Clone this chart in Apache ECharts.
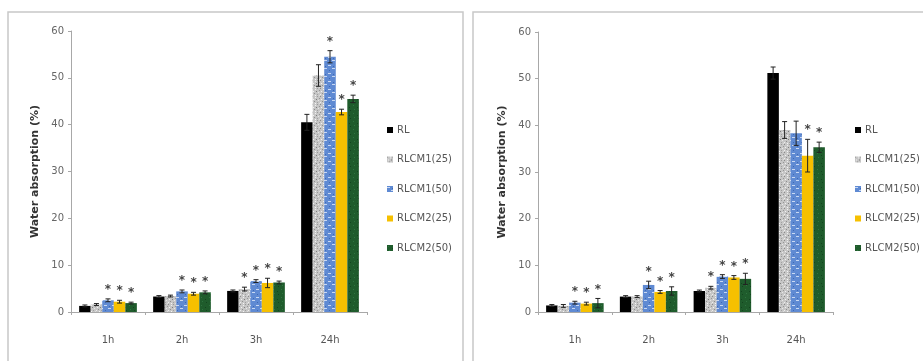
<!DOCTYPE html>
<html>
<head>
<meta charset="utf-8">
<script src="https://cdn.jsdelivr.net/npm/echarts@6/dist/echarts.min.js"></script>
<style>
html,body{margin:0;padding:0;background:#fff;}
#c{width:923px;height:361px;}
</style>
</head>
<body>
<div id="c"></div>
<script>
// ---- data ----
const categories = ['1h', '2h', '3h', '24h'];
const seriesNames = ['RL', 'RLCM1(25)', 'RLCM1(50)', 'RLCM2(25)', 'RLCM2(50)'];
const yTicks = [0, 10, 20, 30, 40, 50, 60];

// left panel: values per series across categories
const leftRL      = [1.3, 3.3, 4.5, 40.5];
const leftM1_25   = [1.6, 3.4, 4.9, 50.5];
const leftM1_50   = [2.5, 4.4, 6.6, 54.5];
const leftM2_25   = [2.2, 3.9, 6.2, 42.7];
const leftM2_50   = [1.9, 4.2, 6.3, 45.5];
const leftErrRL    = [0.2, 0.2, 0.2, 1.7];
const leftErrM1_25 = [0.2, 0.2, 0.4, 2.3];
const leftErrM1_50 = [0.3, 0.3, 0.3, 1.3];
const leftErrM2_25 = [0.3, 0.3, 1.0, 0.6];
const leftErrM2_50 = [0.2, 0.3, 0.3, 0.8];
const leftStarRL    = [0, 0, 0, 0];
const leftStarM1_25 = [0, 0, 1, 0];
const leftStarM1_50 = [1, 1, 1, 1];
const leftStarM2_25 = [1, 1, 1, 1];
const leftStarM2_50 = [1, 1, 1, 1];

// right panel
const rightRL      = [1.4, 3.3, 4.5, 51.2];
const rightM1_25   = [1.3, 3.3, 5.2, 39.0];
const rightM1_50   = [2.0, 5.8, 7.6, 38.3];
const rightM2_25   = [1.8, 4.3, 7.4, 33.5];
const rightM2_50   = [1.9, 4.5, 7.1, 35.3];
const rightErrRL    = [0.2, 0.2, 0.2, 1.3];
const rightErrM1_25 = [0.3, 0.2, 0.3, 1.8];
const rightErrM1_50 = [0.3, 0.8, 0.4, 2.6];
const rightErrM2_25 = [0.3, 0.3, 0.4, 3.5];
const rightErrM2_50 = [1.0, 0.9, 1.2, 1.1];
const rightStarRL    = [0, 0, 0, 0];
const rightStarM1_25 = [0, 0, 1, 0];
const rightStarM1_50 = [1, 1, 1, 0];
const rightStarM2_25 = [1, 1, 1, 1];
const rightStarM2_50 = [1, 1, 1, 1];

// ---- textures (style only) ----
function makePattern(base, marks, size) {
  const cv = document.createElement('canvas');
  cv.width = size; cv.height = size;
  const ctx = cv.getContext('2d');
  ctx.fillStyle = base; ctx.fillRect(0, 0, size, size);
  marks.forEach(m => { ctx.fillStyle = m[4]; ctx.fillRect(m[0], m[1], m[2], m[3]); });
  return cv;
}
const grayPat = makePattern('#c6c6c6', [
  [0,0,1,1,'#8a8a8a'],[3,1,1,1,'#efefef'],[5,0,1,1,'#9a9a9a'],[1,3,1,1,'#f2f2f2'],
  [4,3,1,1,'#7d7d7d'],[6,4,1,1,'#e8e8e8'],[2,5,1,1,'#8f8f8f'],[0,6,1,1,'#ededed'],
  [5,6,1,1,'#a0a0a0'],[3,7,1,1,'#f5f5f5'],[7,2,1,1,'#959595'],[7,7,1,1,'#dcdcdc']
], 8);
const bluePat = makePattern('#5f8ad3', [
  [0,1,3,1,'#c9d8f2'],[4,4,3,1,'#c9d8f2'],[1,6,1,1,'#3f6ab5'],[5,2,1,1,'#3f6ab5']
], 8);
const greenPat = makePattern('#1f5c2c', [
  [1,1,1,1,'#2f7440'],[5,3,1,1,'#14441f'],[2,5,1,1,'#2f7440'],[6,6,1,1,'#14441f']
], 8);
const colors = ['#000000', {image: grayPat, repeat: 'repeat'}, {image: bluePat, repeat: 'repeat'}, '#f6c000', {image: greenPat, repeat: 'repeat'}];

const BAR_GAP = 0.22;
const FONT = 'DejaVu Sans';

function panelSeries(gridIdx, vals, errs, stars) {
  const out = [];
  vals.forEach((v, i) => {
    out.push({
      name: seriesNames[i], type: 'bar', xAxisIndex: gridIdx, yAxisIndex: gridIdx,
      data: v, barGap: 0, barCategoryGap: (BAR_GAP * 100) + '%',
      itemStyle: {color: colors[i]}, silent: true
    });
  });
  const errData = [];
  vals.forEach((v, i) => v.forEach((val, c) => errData.push([c, i, val, errs[i][c], stars[i][c]])));
  out.push({
    type: 'custom', xAxisIndex: gridIdx, yAxisIndex: gridIdx, silent: true, z: 5,
    data: errData,
    renderItem: function (params, api) {
      const c = api.value(0), s = api.value(1), v = api.value(2), e = api.value(3), st = api.value(4);
      const band = api.size([1, 0])[0];
      const bw = band * (1 - BAR_GAP) / 5;
      const cx = api.coord([c, 0])[0] + (s - 2) * bw;
      const yT = api.coord([c, v + e])[1];
      const yB = api.coord([c, Math.max(0, v - e)])[1];
      const cap = 2.5;
      const st1 = {stroke: '#222', lineWidth: 1};
      const ch = [
        {type: 'line', shape: {x1: cx, y1: yB, x2: cx, y2: yT}, style: st1},
        {type: 'line', shape: {x1: cx - cap, y1: yT, x2: cx + cap, y2: yT}, style: st1},
        {type: 'line', shape: {x1: cx - cap, y1: yB, x2: cx + cap, y2: yB}, style: st1}
      ];
      if (st) {
        ch.push({type: 'text', style: {x: cx, y: yT - 3, text: '*', fill: '#444',
          font: 'bold 12px "DejaVu Sans"', align: 'center', verticalAlign: 'bottom'}});
      }
      return {type: 'group', children: ch};
    }
  });
  return out;
}

const axisLineStyle = {lineStyle: {color: '#a8a8a8', width: 1}};
function xAx(g) {
  return {type: 'category', gridIndex: g, data: categories,
    axisLine: axisLineStyle, axisTick: {show: true, length: 3, lineStyle: {color: '#a8a8a8'}},
    axisLabel: {color: '#555', fontSize: 10, margin: 23, fontFamily: FONT}};
}
function yAx(g) {
  return {type: 'value', gridIndex: g, min: 0, max: 60, interval: 10,
    name: 'Water absorption (%)', nameLocation: 'middle', nameGap: 30, nameRotate: 90,
    nameTextStyle: {fontSize: 11, fontWeight: 'bold', color: '#333', fontFamily: FONT},
    axisLine: {show: true, lineStyle: {color: '#a8a8a8'}},
    axisTick: {show: true, length: 3, lineStyle: {color: '#a8a8a8'}},
    splitLine: {show: false},
    axisLabel: {color: '#666', fontSize: 10, margin: 7, fontFamily: FONT,
      formatter: v => yTicks.indexOf(v) >= 0 ? String(v) : ''}};
}
function legend(g, left) {
  return {orient: 'vertical', left: left, top: 124, padding: 0, itemWidth: 6, itemHeight: 6, itemGap: 17.5,
    icon: 'rect', data: seriesNames.slice(), selectedMode: false,
    textStyle: {fontSize: 10, color: '#555', lineHeight: 12, fontFamily: FONT, padding: [0,0,0,-1]},
    itemStyle: {borderWidth: 0}};
}

const chart = echarts.init(document.getElementById('c'), null, {renderer: 'canvas'});
chart.setOption({
  animation: false,
  backgroundColor: '#fff',
  graphic: [
    {type: 'rect', shape: {x: 8, y: 12, width: 455, height: 360}, style: {fill: 'none', stroke: '#c8c8c8', lineWidth: 1.5}, silent: true},
    {type: 'rect', shape: {x: 473, y: 12, width: 460, height: 360}, style: {fill: 'none', stroke: '#c8c8c8', lineWidth: 1.5}, silent: true}
  ],
  grid: [
    {left: 71, top: 31, width: 296, height: 281},
    {left: 538, top: 32, width: 295, height: 280}
  ],
  legend: [legend(0, 387), legend(1, 855)],
  xAxis: [xAx(0), xAx(1)],
  yAxis: [yAx(0), yAx(1)],
  series: [
    ...panelSeries(0,
      [leftRL, leftM1_25, leftM1_50, leftM2_25, leftM2_50],
      [leftErrRL, leftErrM1_25, leftErrM1_50, leftErrM2_25, leftErrM2_50],
      [leftStarRL, leftStarM1_25, leftStarM1_50, leftStarM2_25, leftStarM2_50]),
    ...panelSeries(1,
      [rightRL, rightM1_25, rightM1_50, rightM2_25, rightM2_50],
      [rightErrRL, rightErrM1_25, rightErrM1_50, rightErrM2_25, rightErrM2_50],
      [rightStarRL, rightStarM1_25, rightStarM1_50, rightStarM2_25, rightStarM2_50])
  ]
});
</script>
</body>
</html>
